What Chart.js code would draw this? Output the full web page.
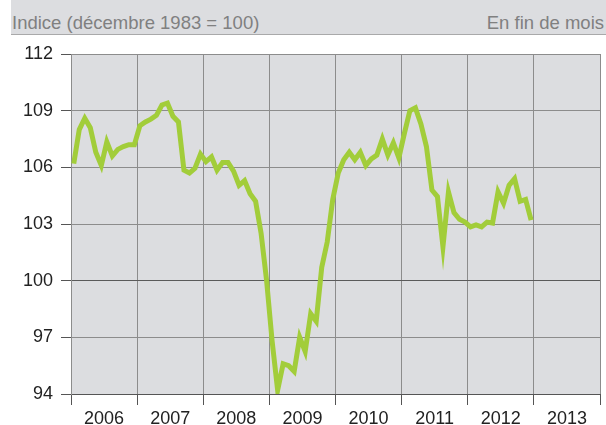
<!DOCTYPE html>
<html>
<head>
<meta charset="utf-8">
<script src="https://cdn.jsdelivr.net/npm/chart.js@4"></script>
<style>
    html, body { margin: 0; padding: 0; background: #fff; }
    #wrap { position: relative; width: 606px; height: 425px; }
    #header {
        position: absolute; left: 11px; top: 0; width: 595px; height: 34px;
        background: #dcdde0; border-bottom: 1px solid #a9a9aa;
        font-family: 'Liberation Sans', Arial, sans-serif; font-size: 18.5px; color: #808080;
    }
    #header span { position: absolute; top: 12px; line-height: normal; white-space: nowrap; }
    #unit { left: 1px; }
    #note { right: 2px; }
    canvas { position: absolute; left: 0; top: 0; }
</style>
</head>
<body>
<div id="wrap">
    <canvas id="chart" width="606" height="425"></canvas>
    <div id="header"><span id="unit">Indice (décembre 1983 = 100)</span><span id="note">En fin de mois</span></div>
</div>
<script>
// Indice mensuel, janvier 2006 -> décembre 2012
const years = ['2006', '2007', '2008', '2009', '2010', '2011', '2012', '2013'];
const values2006 = [106.2, 108.0, 108.6, 108.1, 106.8, 106.1, 107.35, 106.6, 106.95, 107.1, 107.2, 107.2];
const values2007 = [108.2, 108.4, 108.55, 108.75, 109.3, 109.4, 108.7, 108.4, 105.85, 105.7, 105.95, 106.7];
const values2008 = [106.3, 106.55, 105.85, 106.25, 106.25, 105.8, 105.05, 105.3, 104.6, 104.2, 102.5, 100.0];
const values2009 = [96.8, 94.2, 95.6, 95.5, 95.2, 97.0, 96.25, 98.25, 97.85, 100.7, 102.05, 104.3];
const values2010 = [105.7, 106.4, 106.8, 106.4, 106.8, 106.1, 106.45, 106.65, 107.5, 106.65, 107.3, 106.5];
const values2011 = [107.8, 109.0, 109.15, 108.3, 107.1, 104.8, 104.45, 101.8, 104.7, 103.6, 103.25, 103.1];
const values2012 = [102.85, 102.95, 102.85, 103.1, 103.05, 104.7, 104.1, 105.05, 105.4, 104.2, 104.3, 103.2];
const yTicks = [94, 97, 100, 103, 106, 109, 112];

const monthly = [].concat(values2006, values2007, values2008, values2009, values2010, values2011, values2012);
// one point per month, placed in the middle of its month
const points = monthly.map((v, i) => ({ x: i + 0.5, y: v }));

const plotBg = {
    id: 'plotBg',
    beforeDraw(chart) {
        const { ctx, chartArea: a } = chart;
        ctx.save();
        ctx.fillStyle = '#dcdde0';
        ctx.fillRect(a.left, a.top, a.right - a.left, a.bottom - a.top);
        ctx.restore();
    }
};

const FONT = { family: "'Liberation Sans', Arial, sans-serif", size: 18 };

new Chart(document.getElementById('chart'), {
    type: 'line',
    data: {
        datasets: [{
            data: points,
            borderColor: '#a2cd3a',
            borderWidth: 5,
            borderJoinStyle: 'miter',
            pointRadius: 0,
            tension: 0,
            fill: false
        }]
    },
    options: {
        responsive: false,
        animation: false,
        layout: { padding: { top: 54, right: 6, left: 0, bottom: 0 } },
        plugins: { legend: { display: false }, tooltip: { enabled: false } },
        scales: {
            x: {
                type: 'linear',
                min: 0,
                max: years.length * 12,
                afterBuildTicks(scale) {
                    const t = [];
                    for (let v = 0; v <= years.length * 12; v += 6) t.push({ value: v });
                    scale.ticks = t;
                },
                afterFit(scale) { scale.height = 31; },
                grid: {
                    color: c => (c.tick && c.tick.value % 12 === 0) ? '#8c8c8c' : 'rgba(0,0,0,0)',
                    tickColor: c => (c.tick && c.tick.value % 12 === 0) ? '#555' : 'rgba(0,0,0,0)',
                    tickLength: 11,
                    lineWidth: 1
                },
                border: { color: '#555', width: 1 },
                ticks: {
                    autoSkip: false,
                    maxRotation: 0,
                    padding: 3,
                    color: '#222',
                    font: FONT,
                    callback: v => (v % 12 === 6) ? years[(v - 6) / 12] : ''
                }
            },
            y: {
                min: 94,
                max: 112,
                afterBuildTicks(scale) { scale.ticks = yTicks.map(v => ({ value: v })); },
                afterFit(scale) { scale.width = 71; },
                grid: {
                    color: c => (c.tick && c.tick.value === 100) ? '#5a5a5a' : '#8c8c8c',
                    tickColor: '#555',
                    tickLength: 10,
                    lineWidth: 1
                },
                border: { color: '#8c8c8c', width: 1 },
                ticks: {
                    padding: 8,
                    color: '#222',
                    font: FONT
                }
            }
        }
    },
    plugins: [plotBg]
});
</script>
</body>
</html>
